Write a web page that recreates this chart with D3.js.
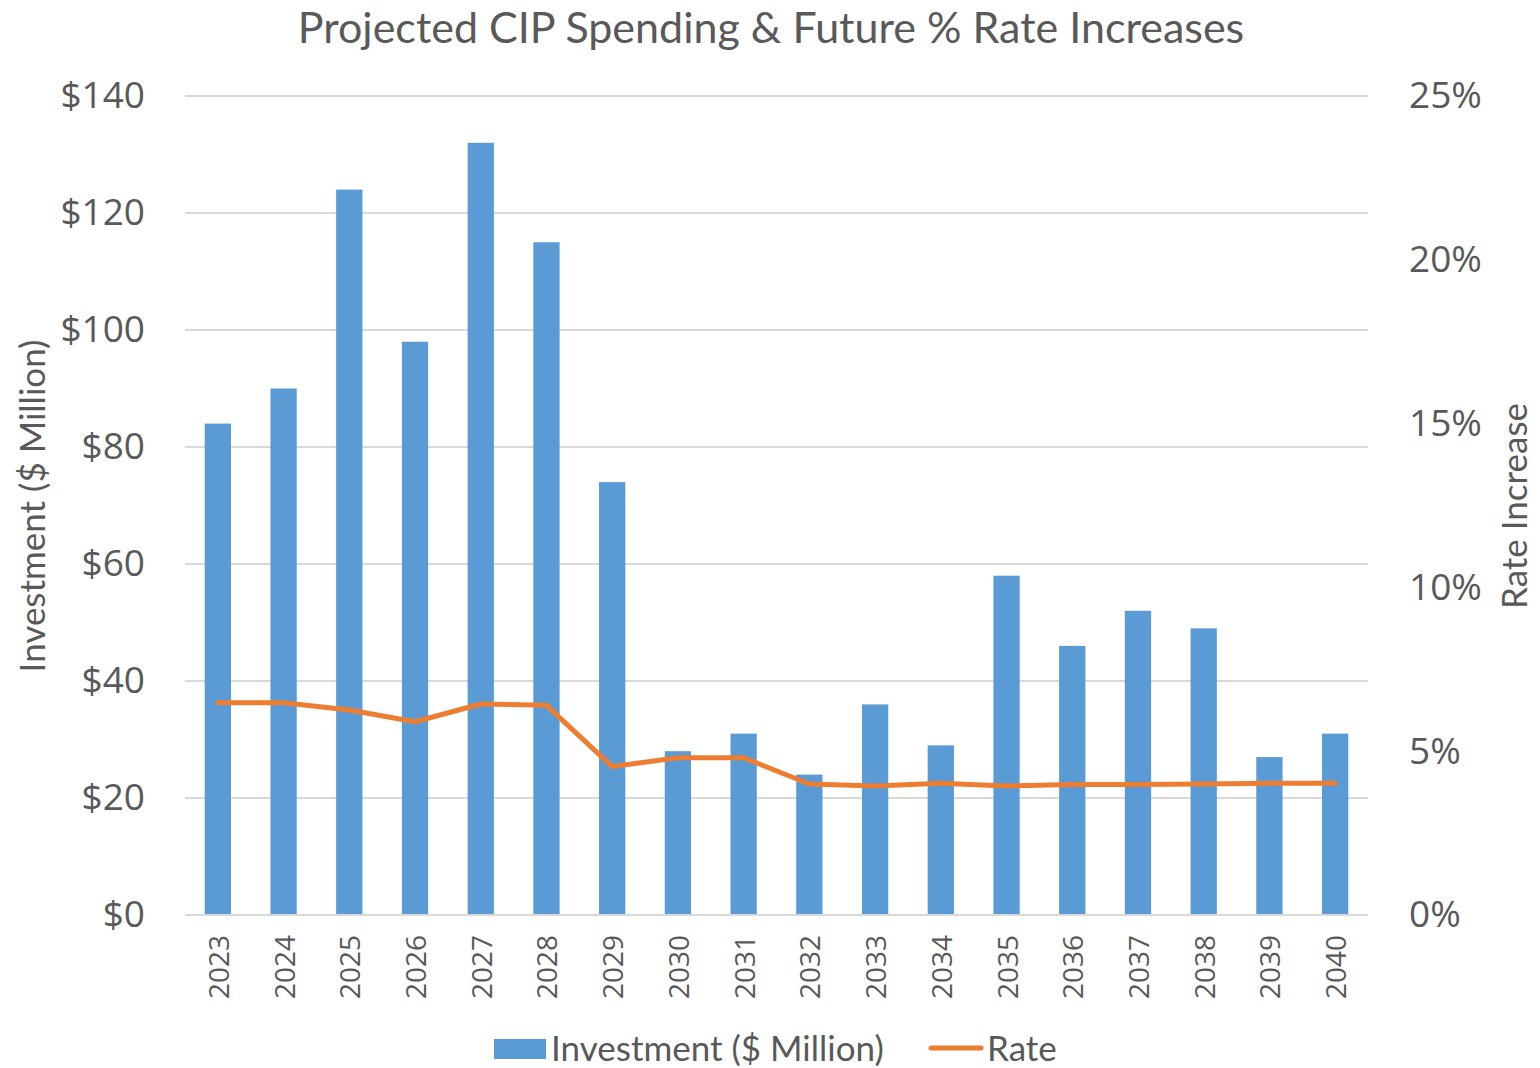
<!DOCTYPE html>
<html>
<head>
    <title>Projected CIP Spending & Future % Rate Increases</title>
    <script src="https://d3js.org/d3.v7.min.js"></script>
    <style>
        body { margin: 0; background: white; }
        .title { font-family: Lato, 'Open Sans', sans-serif; font-size: 43px; fill: #595959; }
        .axis-title { font-family: Lato, 'Open Sans', sans-serif; font-size: 35px; fill: #595959; }
        .tick text { font-family: 'Open Sans', sans-serif; fill: #595959; }
        .legend { font-family: Lato, 'Open Sans', sans-serif; font-size: 35px; fill: #595959; }
    </style>
</head>
<body>
    <svg width="1540" height="1068"></svg>
    <script>
        const years = ["2023", "2024", "2025", "2026", "2027", "2028", "2029", "2030", "2031",
                       "2032", "2033", "2034", "2035", "2036", "2037", "2038", "2039", "2040"];
        const investment = [84, 90, 124, 98, 132, 115, 74, 28, 31, 24, 36, 29, 58, 46, 52, 49, 27, 31];
        const rate = [6.48, 6.48, 6.26, 5.9, 6.44, 6.4, 4.53, 4.8, 4.8, 4.0, 3.94, 4.02, 3.94, 3.98, 3.98, 4.0, 4.02, 4.02];
        const leftTicks = [0, 20, 40, 60, 80, 100, 120, 140];
        const rightTicks = [0, 5, 10, 15, 20, 25];

        const svg = d3.select("svg");
        const plotLeft = 185, plotRight = 1368, plotTop = 96, plotBottom = 915;

        const x = d3.scaleBand().domain(years).range([plotLeft, plotRight]).paddingInner(0.6).paddingOuter(0.3);
        const yL = d3.scaleLinear().domain([0, 140]).range([plotBottom, plotTop]);
        const yR = d3.scaleLinear().domain([0, 25]).range([plotBottom, plotTop]);

        // gridlines
        svg.append("g")
            .selectAll("line")
            .data(leftTicks.filter(d => d > 0))
            .enter().append("line")
            .attr("x1", plotLeft).attr("x2", plotRight)
            .attr("y1", d => yL(d)).attr("y2", d => yL(d))
            .attr("stroke", "#d9d9d9").attr("stroke-width", 2);

        // bars
        svg.append("g")
            .selectAll("rect")
            .data(investment)
            .enter().append("rect")
            .attr("x", (d, i) => x(years[i]))
            .attr("width", x.bandwidth())
            .attr("y", d => yL(d))
            .attr("height", d => plotBottom - yL(d))
            .attr("fill", "#5b9bd5");

        // baseline
        svg.append("line")
            .attr("x1", plotLeft).attr("x2", plotRight)
            .attr("y1", plotBottom).attr("y2", plotBottom)
            .attr("stroke", "#d9d9d9").attr("stroke-width", 2);

        // rate line
        const line = d3.line()
            .x((d, i) => x(years[i]) + x.bandwidth() / 2)
            .y(d => yR(d));
        svg.append("path")
            .datum(rate)
            .attr("d", line)
            .attr("fill", "none")
            .attr("stroke", "#ed7d31")
            .attr("stroke-width", 5)
            .attr("stroke-linejoin", "round")
            .attr("stroke-linecap", "round");

        // left axis
        const leftAxis = svg.append("g")
            .attr("transform", `translate(${plotLeft},0)`)
            .call(d3.axisLeft(yL).tickValues(leftTicks).tickFormat(d => "$" + d).tickSize(0).tickPadding(40));
        leftAxis.select(".domain").remove();
        leftAxis.selectAll("text").style("font-size", "37px");

        // right axis
        const rightAxis = svg.append("g")
            .attr("transform", `translate(${plotRight},0)`)
            .call(d3.axisRight(yR).tickValues(rightTicks).tickFormat(d => d + "%").tickSize(0).tickPadding(41));
        rightAxis.select(".domain").remove();
        rightAxis.selectAll("text").style("font-size", "37px");

        // x axis (rotated year labels)
        const xAxis = svg.append("g")
            .attr("transform", `translate(0,${plotBottom})`)
            .call(d3.axisBottom(x).tickSize(0).tickPadding(0));
        xAxis.select(".domain").remove();
        xAxis.selectAll("text")
            .style("font-size", "28px")
            .attr("text-anchor", "end")
            .attr("dy", null)
            .attr("dominant-baseline", "central")
            .attr("transform", "translate(0,20) rotate(-90)")
            .attr("x", 0).attr("y", 0);

        // title
        svg.append("text")
            .attr("class", "title")
            .attr("x", 771).attr("y", 43)
            .attr("text-anchor", "middle")
            .text("Projected CIP Spending & Future % Rate Increases");

        // axis titles
        svg.append("text")
            .attr("class", "axis-title")
            .attr("transform", "translate(45,506) rotate(-90)")
            .attr("text-anchor", "middle")
            .text("Investment ($ Million)");
        svg.append("text")
            .attr("class", "axis-title")
            .attr("transform", "translate(1527,506) rotate(-90)")
            .attr("text-anchor", "middle")
            .text("Rate Increase");

        // legend
        const lg = svg.append("g");
        lg.append("rect").attr("x", 494).attr("y", 1039).attr("width", 52).attr("height", 20).attr("fill", "#5b9bd5");
        lg.append("text").attr("class", "legend").attr("x", 551).attr("y", 1061).text("Investment ($ Million)");
        lg.append("line").attr("x1", 931).attr("x2", 981).attr("y1", 1048).attr("y2", 1048)
            .attr("stroke", "#ed7d31").attr("stroke-width", 5).attr("stroke-linecap", "round");
        lg.append("text").attr("class", "legend").attr("x", 987).attr("y", 1061).text("Rate");
    </script>
</body>
</html>
